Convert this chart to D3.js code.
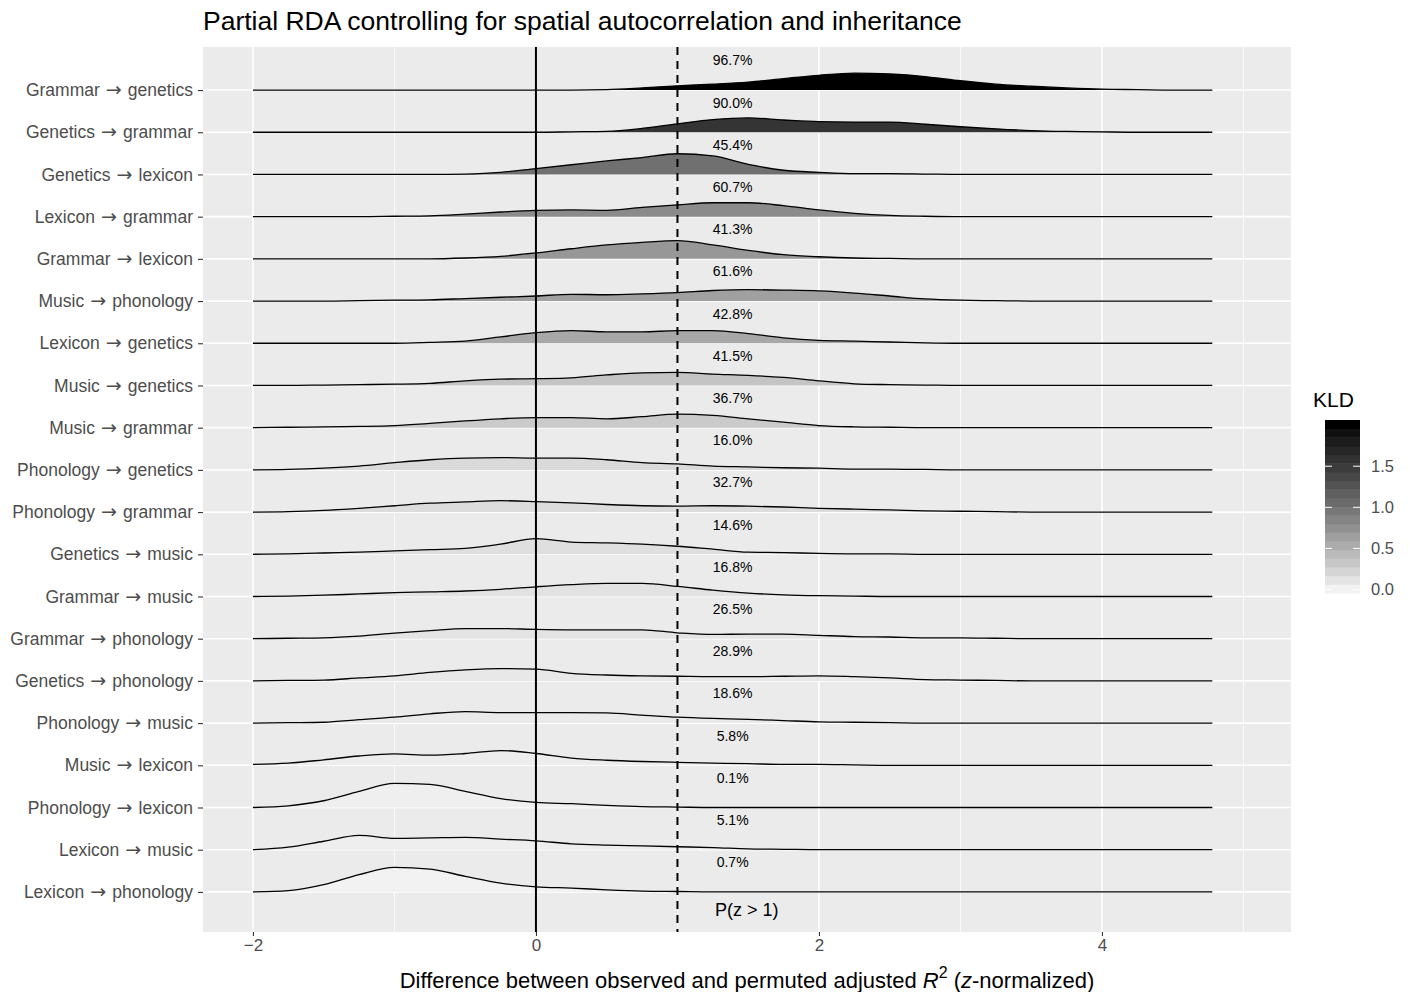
<!DOCTYPE html>
<html>
<head>
<meta charset="utf-8">
<script src="https://cdn.jsdelivr.net/npm/d3@7"></script>
<style>
  body { margin: 0; background: #fff; }
  text { font-family: "Liberation Sans", Arial, Helvetica, sans-serif; }
</style>
</head>
<body>
<svg id="chart" width="1410" height="992"></svg>
<script>
// rows, top to bottom as shown
var categories = [
    "Grammar → genetics", "Genetics → grammar", "Genetics → lexicon", "Lexicon → grammar",
    "Grammar → lexicon", "Music → phonology", "Lexicon → genetics", "Music → genetics",
    "Music → grammar", "Phonology → genetics", "Phonology → grammar", "Genetics → music",
    "Grammar → music", "Grammar → phonology", "Genetics → phonology", "Phonology → music",
    "Music → lexicon", "Phonology → lexicon", "Lexicon → music", "Lexicon → phonology"
];

var pGreater = [96.7, 90.0, 45.4, 60.7, 41.3, 61.6, 42.8, 41.5, 36.7, 16.0,
                32.7, 14.6, 16.8, 26.5, 28.9, 18.6, 5.8, 0.1, 5.1, 0.7];

var kld = [2.01, 1.56, 1.02, 0.80, 0.70, 0.63, 0.57, 0.35, 0.31, 0.19,
           0.17, 0.15, 0.13, 0.11, 0.08, 0.07, 0.05, 0.03, 0.04, 0.01];

var xGrid = [-2, -1.75, -1.5, -1.25, -1, -0.75, -0.5, -0.25, 0, 0.25, 0.5, 0.75, 1, 1.25,
             1.5, 1.75, 2, 2.25, 2.5, 2.75, 3, 3.25, 3.5, 3.75, 4, 4.25, 4.5, 4.78];

// scaled ridge heights (in row units) at each xGrid point
var density = [
    [0, 0, 0, 0, 0, 0, 0, 0, 0, 0, .01, .05, .10, .14, .19, .27, .35, .40, .38, .32, .22, .14, .09, .05, .02, .01, 0, 0],
    [0, 0, 0, 0, 0, 0, 0, 0, 0, .01, .02, .09, .20, .30, .34, .29, .25, .24, .24, .19, .13, .08, .04, .02, .01, 0, 0, 0],
    [0, 0, 0, 0, 0, 0, .01, .05, .14, .23, .32, .40, .49, .44, .24, .10, .05, .02, .02, .01, 0, 0, 0, 0, 0, 0, 0, 0],
    [0, 0, 0, 0, .01, .02, .06, .11, .15, .16, .15, .22, .28, .33, .33, .26, .16, .08, .03, .01, 0, 0, 0, 0, 0, 0, 0, 0],
    [0, 0, 0, 0, 0, 0, .02, .06, .14, .24, .33, .39, .43, .33, .20, .10, .05, .02, .01, 0, 0, 0, 0, 0, 0, 0, 0, 0],
    [0, 0, 0, .01, .02, .03, .06, .09, .12, .16, .15, .17, .20, .25, .27, .26, .24, .19, .12, .05, .02, .01, 0, 0, 0, 0, 0, 0],
    [0, 0, 0, 0, 0, .02, .05, .15, .25, .30, .27, .27, .30, .30, .23, .13, .07, .05, .03, .01, 0, 0, 0, 0, 0, 0, 0, 0],
    [0, 0, .01, .02, .03, .05, .11, .15, .16, .18, .25, .30, .31, .27, .24, .19, .11, .04, .02, .01, 0, 0, 0, 0, 0, 0, 0, 0],
    [0, .01, .02, .03, .05, .10, .16, .21, .24, .24, .21, .26, .32, .29, .21, .13, .05, .02, .01, 0, 0, 0, 0, 0, 0, 0, 0, 0],
    [0, .01, .04, .09, .17, .24, .28, .29, .28, .28, .24, .17, .14, .09, .07, .05, .04, .02, .02, .01, 0, 0, 0, 0, 0, 0, 0, 0],
    [0, .01, .04, .09, .15, .21, .24, .27, .25, .22, .18, .15, .14, .15, .14, .12, .09, .07, .05, .03, .02, .01, 0, 0, 0, 0, 0, 0],
    [0, .01, .03, .05, .08, .11, .14, .24, .37, .29, .27, .24, .19, .12, .05, .04, .02, .01, .01, 0, 0, 0, 0, 0, 0, 0, 0, 0],
    [0, .01, .03, .06, .09, .11, .13, .17, .23, .28, .31, .31, .24, .15, .08, .04, .02, .01, 0, 0, 0, 0, 0, 0, 0, 0, 0, 0],
    [0, .01, .02, .06, .13, .19, .24, .24, .22, .21, .21, .21, .14, .10, .11, .11, .08, .05, .04, .02, .02, .01, 0, 0, 0, 0, 0, 0],
    [0, .01, .02, .07, .12, .20, .26, .29, .28, .18, .14, .12, .11, .10, .10, .11, .12, .10, .07, .03, .02, .01, 0, 0, 0, 0, 0, 0],
    [0, .01, .02, .08, .14, .22, .27, .25, .25, .25, .24, .19, .14, .11, .09, .06, .03, .02, .01, 0, 0, 0, 0, 0, 0, 0, 0, 0],
    [.02, .05, .13, .22, .27, .24, .28, .35, .28, .17, .12, .09, .07, .05, .04, .02, .02, .01, 0, 0, 0, 0, 0, 0, 0, 0, 0, 0],
    [0, .04, .16, .38, .57, .55, .38, .21, .12, .09, .05, .02, .01, 0, 0, 0, 0, 0, 0, 0, 0, 0, 0, 0, 0, 0, 0, 0],
    [0, .06, .20, .34, .27, .28, .29, .25, .21, .14, .11, .09, .07, .05, .02, .01, 0, 0, 0, 0, 0, 0, 0, 0, 0, 0, 0, 0],
    [0, .03, .17, .41, .58, .54, .37, .21, .12, .09, .05, .02, .01, 0, 0, 0, 0, 0, 0, 0, 0, 0, 0, 0, 0, 0, 0, 0]
];

var xTicks = [-2, 0, 2, 4];
var xMinor = [-1, 1, 3, 5];
var legendTicks = [0, 0.5, 1.0, 1.5];

var panel = {left: 203, right: 1291, top: 47, bottom: 932};
var svg = d3.select("#chart");
var nRows = categories.length;

var x = d3.scaleLinear().domain([-2.353, 5.336]).range([panel.left, panel.right]);
var y = d3.scaleLinear().domain([0.05, 21.02]).range([panel.bottom, panel.top]);
var rowPos = (d, i) => nRows - i;   // top row sits at position 20

var kExtent = d3.extent(kld);
var fill = d3.scaleLinear().domain(kExtent).range(["#f2f2f2", "#000000"]).interpolate(d3.interpolateLab);

svg.append("text")
    .attr("x", panel.left)
    .attr("y", 30)
    .attr("font-size", 26.5)
    .attr("fill", "#000")
    .text("Partial RDA controlling for spatial autocorrelation and inheritance");

svg.append("rect")
    .attr("x", panel.left).attr("y", panel.top)
    .attr("width", panel.right - panel.left).attr("height", panel.bottom - panel.top)
    .attr("fill", "#ebebeb");

var grid = svg.append("g");
grid.selectAll(".minor")
    .data(xMinor)
    .enter().append("line")
    .attr("x1", d => x(d)).attr("x2", d => x(d))
    .attr("y1", panel.top).attr("y2", panel.bottom)
    .attr("stroke", "#fff").attr("stroke-width", 0.8);
grid.selectAll(".major")
    .data(xTicks)
    .enter().append("line")
    .attr("x1", d => x(d)).attr("x2", d => x(d))
    .attr("y1", panel.top).attr("y2", panel.bottom)
    .attr("stroke", "#fff").attr("stroke-width", 1.6);
grid.selectAll(".hline")
    .data(categories)
    .enter().append("line")
    .attr("x1", panel.left).attr("x2", panel.right)
    .attr("y1", (d, i) => y(rowPos(d, i))).attr("y2", (d, i) => y(rowPos(d, i)))
    .attr("stroke", "#fff").attr("stroke-width", 1.6);

var ridges = svg.append("g")
    .selectAll(".ridge")
    .data(categories)
    .enter().append("g")
    .classed("ridge", true);

ridges.append("path")
    .attr("fill", (d, i) => fill(kld[i]))
    .attr("d", (d, i) => {
        var base = rowPos(d, i);
        return d3.area()
            .x(p => x(p))
            .y0(y(base))
            .y1((p, j) => y(base + density[i][j]))
            .curve(d3.curveMonotoneX)(xGrid);
    });

ridges.append("path")
    .attr("fill", "none")
    .attr("stroke", "#000")
    .attr("stroke-width", 1.3)
    .attr("d", (d, i) => {
        var base = rowPos(d, i);
        return d3.line()
            .x(p => x(p))
            .y((p, j) => y(base + density[i][j]))
            .curve(d3.curveMonotoneX)(xGrid);
    });

svg.append("line")
    .attr("x1", x(0)).attr("x2", x(0))
    .attr("y1", panel.top).attr("y2", panel.bottom)
    .attr("stroke", "#000").attr("stroke-width", 2);
svg.append("line")
    .attr("x1", x(1)).attr("x2", x(1))
    .attr("y1", panel.top).attr("y2", panel.bottom)
    .attr("stroke", "#000").attr("stroke-width", 2)
    .attr("stroke-dasharray", "8,6");

svg.append("g")
    .selectAll("text")
    .data(pGreater)
    .enter().append("text")
    .attr("x", x(1.39))
    .attr("y", (d, i) => y(nRows - i + 0.7))
    .attr("dy", "0.35em")
    .attr("text-anchor", "middle")
    .attr("font-size", 14)
    .attr("fill", "#000")
    .text(d => d3.format(".1f")(d) + "%");

svg.append("text")
    .attr("x", x(1.49))
    .attr("y", y(1 - 0.42))
    .attr("dy", "0.35em")
    .attr("text-anchor", "middle")
    .attr("font-size", 18)
    .attr("fill", "#000")
    .text("P(z > 1)");

// axes
var xAxis = svg.append("g")
    .attr("transform", "translate(0," + panel.bottom + ")")
    .call(d3.axisBottom(x).tickValues(xTicks).tickSize(4).tickPadding(3)
        .tickFormat(d => d < 0 ? "\u2212" + Math.abs(d) : d));
var yAxis = svg.append("g")
    .attr("transform", "translate(" + panel.left + ",0)")
    .call(d3.axisLeft(y).tickValues(categories.map(rowPos)).tickSize(5).tickPadding(5)
        .tickFormat(v => categories[nRows - v]));
[xAxis, yAxis].forEach(a => {
    a.select(".domain").remove();
    a.selectAll(".tick line").attr("stroke", "#333").attr("stroke-width", 1.1);
    a.selectAll(".tick text").attr("fill", "#4d4d4d").attr("font-size", 17.5)
        .attr("font-family", "Liberation Sans, Arial, sans-serif");
});
xAxis.selectAll(".tick text").attr("font-size", 17);

// draw the arrow from a font that has a full-size glyph
yAxis.selectAll(".tick text").each(function(v) {
    var parts = categories[nRows - v].split(" → ");
    var t = d3.select(this).text(null);
    t.append("tspan").text(parts[0]);
    t.append("tspan").attr("font-family", "DejaVu Sans").attr("font-size", 19).text(" → ");
    t.append("tspan").text(parts[1]);
});

var xTitle = svg.append("text")
    .attr("x", (panel.left + panel.right) / 2)
    .attr("y", 988)
    .attr("text-anchor", "middle")
    .attr("font-size", 22)
    .attr("fill", "#000");
xTitle.append("tspan").text("Difference between observed and permuted adjusted ");
xTitle.append("tspan").attr("font-style", "italic").text("R");
xTitle.append("tspan").attr("font-size", 16).attr("dy", -10).text("2");
xTitle.append("tspan").attr("dy", 10).text(" (");
xTitle.append("tspan").attr("font-style", "italic").text("z");
xTitle.append("tspan").text("-normalized)");

// KLD colourbar
var bar = {x: 1325, w: 35, top: 420, bottom: 593, nbin: 20};
var binH = (bar.bottom - bar.top) / bar.nbin;
var binVals = d3.range(bar.nbin).map(k => kExtent[0] + k / (bar.nbin - 1) * (kExtent[1] - kExtent[0]));
var legendY = d3.scaleLinear()
    .domain(kExtent)
    .range([bar.bottom - binH / 2, bar.top + binH / 2]);

var legend = svg.append("g");
legend.append("text")
    .attr("x", 1313).attr("y", 407)
    .attr("font-size", 21).attr("fill", "#000")
    .text("KLD");
legend.selectAll("rect")
    .data(binVals)
    .enter().append("rect")
    .attr("x", bar.x)
    .attr("y", (d, k) => bar.bottom - (k + 1) * binH)
    .attr("width", bar.w)
    .attr("height", binH + 0.5)
    .attr("fill", d => fill(d));
var lt = legend.selectAll(".lt")
    .data(legendTicks)
    .enter().append("g");
lt.append("line")
    .attr("x1", bar.x).attr("x2", bar.x + 7)
    .attr("y1", d => legendY(d)).attr("y2", d => legendY(d))
    .attr("stroke", "#fff").attr("stroke-width", 1);
lt.append("line")
    .attr("x1", bar.x + bar.w - 7).attr("x2", bar.x + bar.w)
    .attr("y1", d => legendY(d)).attr("y2", d => legendY(d))
    .attr("stroke", "#fff").attr("stroke-width", 1);
lt.append("text")
    .attr("x", bar.x + bar.w + 11)
    .attr("y", d => legendY(d))
    .attr("dy", "0.35em")
    .attr("font-size", 16.5)
    .attr("fill", "#4d4d4d")
    .text(d => d3.format(".1f")(d));
</script>
</body>
</html>
